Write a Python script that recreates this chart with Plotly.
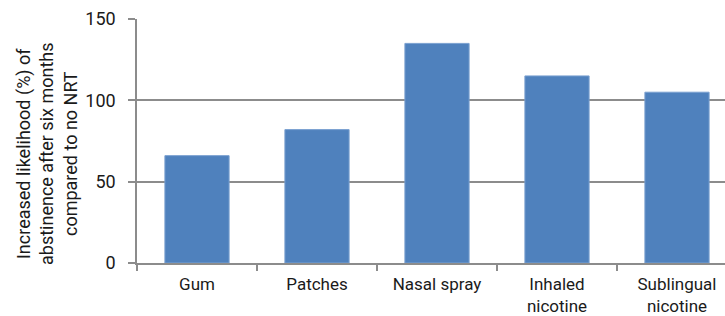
import plotly.graph_objects as go

categories = ["Gum", "Patches", "Nasal spray", "Inhaled<br>nicotine", "Sublingual<br>nicotine"]
values = [66, 82, 135, 115, 105]
y_ticks = [0, 50, 100, 150]
y_title = "Increased likelihood (%) of<br>abstinence after six months<br>compared to no NRT"

FONT = "Roboto, Tahoma, DejaVu Sans, sans-serif"
TXT = "#1a1a1a"
GRID = "#8c8c8c"

fig = go.Figure(go.Bar(
    x=categories, y=values,
    marker=dict(color="#4f81bd", line=dict(color="#7aa0d0", width=1)),
    width=0.535,
))

fig.update_layout(
    width=725, height=316,
    margin=dict(l=137, r=0, t=19, b=53, autoexpand=False),
    plot_bgcolor="white", paper_bgcolor="white",
    showlegend=False,
    font=dict(family=FONT, size=18, color=TXT),
    xaxis=dict(
        range=[-0.5, 4.4], automargin=False,
        showgrid=False, zeroline=False,
        showline=True, linecolor=GRID, linewidth=1.5,
        ticks="outside", tickson="boundaries", ticklen=6, tickcolor=GRID, tickwidth=1.5,
        tickfont=dict(family=FONT, size=17, color=TXT),
        ticklabelstandoff=5,
    ),
    yaxis=dict(
        range=[0, 150], tickvals=y_ticks, automargin=False,
        showgrid=True, gridcolor=GRID, gridwidth=1.5,
        zeroline=False,
        showline=True, linecolor=GRID, linewidth=1.5,
        ticks="outside", ticklen=7, tickcolor=GRID, tickwidth=1.5,
        tickfont=dict(family=FONT, size=18, color=TXT),
        ticklabelstandoff=9,
    ),
    annotations=[dict(
        text=y_title, textangle=-90,
        xref="paper", yref="paper",
        x=(47 - 137) / 588, y=(263 - 154) / 244,
        xanchor="center", yanchor="middle",
        showarrow=False,
        font=dict(family=FONT, size=18, color=TXT),
    )],
)

fig.write_html(
    "out.html",
    config={"displayModeBar": False},
    post_script="document.body.style.margin='0';document.body.style.overflow='hidden';",
)
